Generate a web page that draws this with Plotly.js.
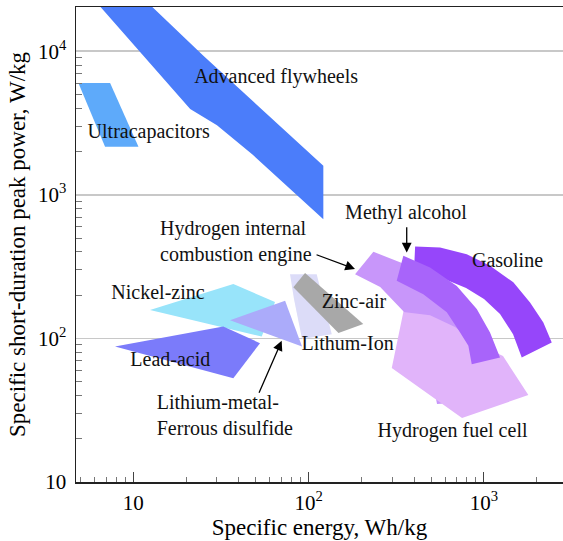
<!DOCTYPE html>
<html>
<head>
<meta charset="utf-8">
<script src="https://cdn.plot.ly/plotly-3.0.1.min.js"></script>
<style>html,body{margin:0;padding:0;background:#fff;}#chart{width:563px;height:541px;}</style>
</head>
<body>
<div id="chart"></div>
<script>
// Region outlines: specific energy (Wh/kg) and specific peak power (W/kg)
const flywheelE = [5.29, 10.04, 25.1, 44.4, 81.8, 121.3, 121.3, 48.0, 30.0, 21.1];
const flywheelP = [27070, 27070, 9290, 4890, 2443, 1592, 677, 1900, 3050, 3953];

const ultracapE = [4.86, 7.37, 10.7, 6.9];
const ultracapP = [6000, 6000, 2160, 2160];

const nickelZincE = [12.45, 37.2, 64.3, 54.0];
const nickelZincP = [158, 239, 179, 103];

const leadAcidE = [7.86, 32.6, 52.8, 37.2];
const leadAcidP = [87.9, 121, 92.7, 52.7];

const lithiumIonE = [78.3, 111.2, 135.5, 91.7, 82.5];
const lithiumIonP = [280, 280, 107, 98.9, 188];

const lithiumMetalE = [35.6, 73.4, 91.7];
const lithiumMetalP = [134, 183, 87.9];

const zincAirE = [81.8, 95.4, 205, 148];
const zincAirP = [227, 285, 126, 109];

const hIceE = [234, 355, 526, 684, 780, 712, 616, 540, 506, 432, 346, 256, 184];
const hIceP = [401, 329, 239, 148, 84.3, 48.1, 35.4, 34.9, 52.1, 91.3, 155, 228, 280];

const fuelCellE = [347, 493, 684, 925, 1285, 1792, 750, 298];
const fuelCellP = [153, 145, 120, 91.3, 75.3, 40.3, 27.9, 62.1];

const gasolineE = [405, 562, 798, 1083, 1471, 1832, 2182, 2437, 1643, 1466, 1235, 1001, 791, 562, 399];
const gasolineP = [437, 430, 386, 320, 246, 178, 129, 93.8, 73.7, 107, 148, 188, 224, 267, 294];

const methylE = [347, 493, 700, 910, 1083, 1235, 852, 815, 731, 614, 451, 318];
const methylP = [376, 312, 232, 160, 110, 73.7, 66.2, 88.8, 110, 152, 203, 252];

// Region colours
const regionNames = ['Advanced flywheels', 'Ultracapacitors', 'Nickel-zinc', 'Lead-acid', 'Lithum-Ion',
  'Lithium-metal-Ferrous disulfide', 'Zinc-air', 'Hydrogen internal combustion engine',
  'Hydrogen fuel cell', 'Gasoline', 'Methyl alcohol'];
const regionE = [flywheelE, ultracapE, nickelZincE, leadAcidE, lithiumIonE, lithiumMetalE, zincAirE, hIceE, fuelCellE, gasolineE, methylE];
const regionP = [flywheelP, ultracapP, nickelZincP, leadAcidP, lithiumIonP, lithiumMetalP, zincAirP, hIceP, fuelCellP, gasolineP, methylP];
const regionColors = ['#4b7dfa', '#5eaafa', '#98e4fa', '#7b7bfa', '#dcdcf8', '#ababfa', '#a8a8a8', '#c896fa', '#e1b4fa', '#9646fa', '#a864fa'];

// Labels
const labelText = ['Advanced flywheels', 'Ultracapacitors', 'Methyl alcohol', 'Hydrogen internal<br>combustion engine',
  'Gasoline', 'Nickel-zinc', 'Zinc-air', 'Lithum-Ion', 'Lead-acid', 'Lithium-metal-<br>Ferrous disulfide', 'Hydrogen fuel cell'];
const labelE = [65.2, 12.24, 359, 14.2, 1363, 13.83, 181.6, 166.7, 16.26, 13.6, 662];
const labelP = [6500, 2690, 734, 460, 342, 203, 176, 89.8, 69.8, 28.5, 22.2];
const labelPos = ['middle center', 'middle center', 'middle center', 'middle right', 'middle center', 'middle center',
  'middle center', 'middle center', 'middle center', 'middle right', 'middle center'];

// Arrows (tail -> head)
const arrowTailE = [108.8, 362.7, 51.7];
const arrowTailP = [386, 608, 40.9];
const arrowHeadE = [183.9, 362.7, 70.2];
const arrowHeadP = [304, 397, 96.2];

// Axis ticks
const xTickVals = [10, 100, 1000];
const xTickText = ['10', '10<sup>2</sup>', '10<sup>3</sup>'];
const yTickVals = [10, 100, 1000, 10000];
const yTickText = ['10', '10<sup>2</sup>', '10<sup>3</sup>', '10<sup>4</sup>'];
const xMinor = [5, 6, 7, 8, 9, 20, 30, 40, 50, 60, 70, 80, 90, 200, 300, 400, 500, 600, 700, 800, 900, 2000];
const yMinor = [20, 30, 40, 50, 60, 70, 80, 90, 200, 300, 400, 500, 600, 700, 800, 900, 2000, 3000, 4000, 5000, 6000, 7000, 8000, 9000];

const FONT = 'Liberation Serif';

const traces = regionNames.map((n, i) => ({
  type: 'scatter', mode: 'lines', name: n,
  x: regionE[i], y: regionP[i],
  fill: 'toself', fillcolor: regionColors[i],
  line: {width: 0, color: regionColors[i]},
  hoverinfo: 'skip', showlegend: false
}));

traces.push({
  type: 'scatter', mode: 'text', name: 'labels',
  x: labelE, y: labelP, text: labelText, textposition: labelPos,
  textfont: {family: FONT, size: 20, color: '#111'},
  cliponaxis: false, hoverinfo: 'skip', showlegend: false
});

const annotations = [];
for (let i = 0; i < arrowTailE.length; i++) {
  annotations.push({
    x: Math.log10(arrowHeadE[i]), y: Math.log10(arrowHeadP[i]), xref: 'x', yref: 'y',
    ax: Math.log10(arrowTailE[i]), ay: Math.log10(arrowTailP[i]), axref: 'x', ayref: 'y',
    text: '', showarrow: true, arrowhead: 2, arrowsize: 1.5, arrowwidth: 1.3, arrowcolor: '#000'
  });
}

const layout = {
  width: 563, height: 541,
  margin: {l: 76, r: 0, t: 7, b: 59},
  paper_bgcolor: '#ffffff', plot_bgcolor: '#ffffff',
  hovermode: false, showlegend: false,
  font: {family: FONT, color: '#000', size: 20},
  xaxis: {
    type: 'log', range: [0.673, 3.451],
    showgrid: false, zeroline: false,
    showline: true, linecolor: '#222', linewidth: 1.5, mirror: true,
    tickmode: 'array', tickvals: xTickVals, ticktext: xTickText,
    ticks: 'inside', ticklen: 10, tickwidth: 1, tickcolor: '#444',
    ticklabelstandoff: 1,
    minor: {tickmode: 'array', tickvals: xMinor, ticks: 'inside', ticklen: 5, tickwidth: 1, tickcolor: '#777', showgrid: false},
    tickfont: {family: FONT, size: 21, color: '#000'},
    title: {text: 'Specific energy, Wh/kg', font: {family: FONT, size: 23, color: '#000'}, standoff: 2},
    automargin: false
  },
  yaxis: {
    type: 'log', range: [1, 4.308],
    showgrid: true, gridcolor: '#c8c8c8', gridwidth: 1.5, zeroline: false,
    showline: true, linecolor: '#222', linewidth: 1.5,
    tickmode: 'array', tickvals: yTickVals, ticktext: yTickText,
    ticks: '', ticklabelstandoff: 4,
    minor: {tickmode: 'array', tickvals: yMinor, ticks: 'inside', ticklen: 6, tickwidth: 1, tickcolor: '#777', showgrid: false},
    tickfont: {family: FONT, size: 21, color: '#000'},
    title: {text: 'Specific short-duration peak power, W/kg', font: {family: FONT, size: 23, color: '#000'}, standoff: 6},
    automargin: false
  },
  annotations: annotations
};

Plotly.newPlot('chart', traces, layout, {displayModeBar: false, staticPlot: true});
</script>
</body>
</html>
